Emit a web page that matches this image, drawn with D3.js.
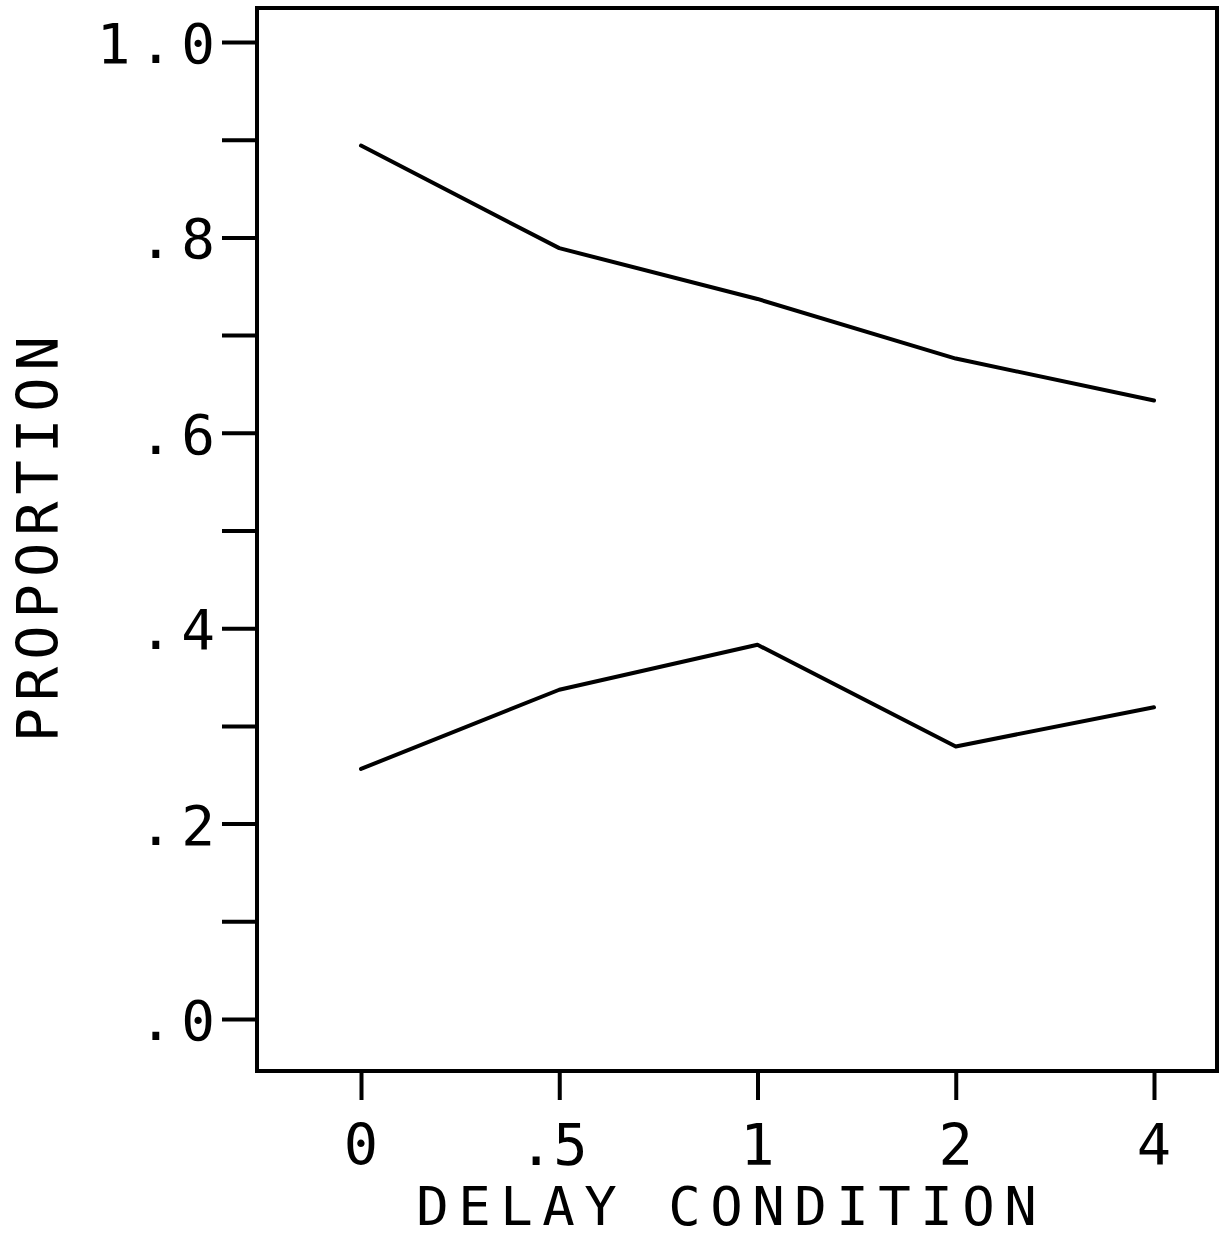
<!DOCTYPE html>
<html>
<head>
<meta charset="utf-8">
<script src="https://cdn.jsdelivr.net/npm/d3@7"></script>
<style>
  html, body { margin: 0; padding: 0; background: #fff; }
  svg { display: block; }
  text { font-family: "DejaVu Sans Mono", "Liberation Mono", monospace; fill: #000; }
</style>
</head>
<body>
<script>
const categories = ["0", ".5", "1", "2", "4"];
const upperSeries = [0.894, 0.789, 0.737, 0.676, 0.633];
const lowerSeries = [0.256, 0.337, 0.383, 0.279, 0.319];
const yTickValues = [0, 0.1, 0.2, 0.3, 0.4, 0.5, 0.6, 0.7, 0.8, 0.9, 1.0];
const yTickLabels = {"0": ".0", "0.2": ".2", "0.4": ".4", "0.6": ".6", "0.8": ".8", "1": "1.0"};
const xTitle = "DELAY CONDITION";
const yTitle = "PROPORTION";

const W = 1223, H = 1239;
const box = {left: 257, right: 1217, top: 8, bottom: 1071};

const svg = d3.select("body").append("svg").attr("width", W).attr("height", H);

const y = d3.scaleLinear().domain([0, 1]).range([1019, 42]);
const x = d3.scalePoint().domain(categories).range([361, 1154]);

// frame
svg.append("rect")
  .attr("x", box.left).attr("y", box.top)
  .attr("width", box.right - box.left).attr("height", box.bottom - box.top)
  .attr("fill", "none").attr("stroke", "#000").attr("stroke-width", 4);

// y axis ticks
const yAxis = d3.axisLeft(y).tickValues(yTickValues).tickSize(35).tickFormat("");
const gy = svg.append("g").attr("transform", `translate(${box.left},0)`).call(yAxis);
gy.select(".domain").remove();
gy.selectAll(".tick line").attr("stroke", "#000").attr("stroke-width", 4);

// y tick labels
const ls = 8.5;
svg.append("g").selectAll("text")
  .data(yTickValues.filter(v => yTickLabels[String(+v.toFixed(1))] !== undefined))
  .join("text")
  .attr("x", 215 + ls)
  .attr("y", d => y(d) + 21)
  .attr("text-anchor", "end")
  .attr("font-size", 56)
  .attr("letter-spacing", ls)
  .text(d => yTickLabels[String(+d.toFixed(1))]);

// x axis ticks
const xAxis = d3.axisBottom(x).tickSize(29).tickFormat("");
const gx = svg.append("g").attr("transform", `translate(0,${box.bottom})`).call(xAxis);
gx.select(".domain").remove();
gx.selectAll(".tick line").attr("stroke", "#000").attr("stroke-width", 4);

// x tick labels
svg.append("g").selectAll("text")
  .data(categories)
  .join("text")
  .attr("x", d => x(d) - (d.length > 1 ? 6 : 0))
  .attr("y", 1165)
  .attr("text-anchor", "middle")
  .attr("font-size", 57)
  .text(d => d);

// x title
svg.append("text")
  .attr("x", 727 + ls / 2)
  .attr("y", 1225)
  .attr("text-anchor", "middle")
  .attr("font-size", 54)
  .attr("letter-spacing", ls + 1)
  .text(xTitle);

// y title
svg.append("text")
  .attr("transform", "translate(58,540) rotate(-90)")
  .attr("x", ls / 2)
  .attr("text-anchor", "middle")
  .attr("font-size", 57)
  .attr("letter-spacing", 7)
  .text(yTitle);

// lines
const line = d3.line().x((d, i) => x(categories[i])).y(d => y(d));
[upperSeries, lowerSeries].forEach(s => {
  svg.append("path")
    .datum(s)
    .attr("d", line)
    .attr("fill", "none")
    .attr("stroke", "#000")
    .attr("stroke-width", 4)
    .attr("stroke-linejoin", "round")
    .attr("stroke-linecap", "round");
});
</script>
</body>
</html>
